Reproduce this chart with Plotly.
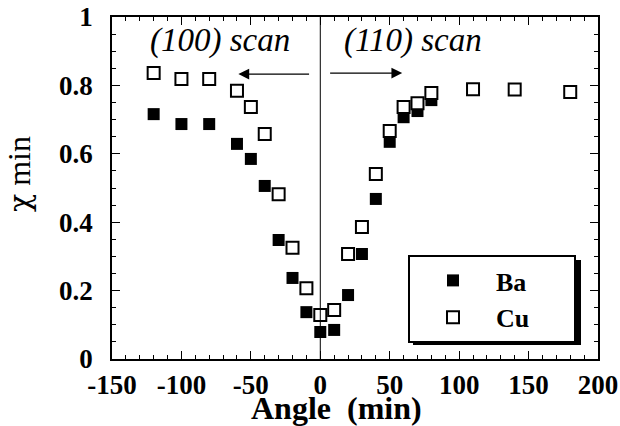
import plotly.graph_objects as go

# ---- data ----
angle_ba = [-120, -100, -80, -60, -50, -40, -30, -20, -10, 0, 10, 20, 30, 40, 50, 60, 70, 80]
chi_ba = [0.716, 0.687, 0.687, 0.629, 0.585, 0.506, 0.348, 0.237, 0.137, 0.079, 0.085,
          0.187, 0.307, 0.468, 0.635, 0.707, 0.725, 0.757]
angle_cu = [-120, -100, -80, -60, -50, -40, -30, -20, -10, 0, 10, 20, 30, 40, 50, 60, 70, 80,
            110, 140, 180]
chi_cu = [0.836, 0.819, 0.819, 0.784, 0.737, 0.658, 0.482, 0.325, 0.207, 0.129, 0.143,
          0.307, 0.386, 0.541, 0.667, 0.737, 0.748, 0.778, 0.789, 0.788, 0.781]
x_ticks = [-150, -100, -50, 0, 50, 100, 150, 200]
x_tick_text = ["-150", "-100", "-50", "0", "50", "100", "150", "200"]
y_ticks = [0, 0.2, 0.4, 0.6, 0.8, 1]
y_tick_text = ["0", "0.2", "0.4", "0.6", "0.8", "1"]

FONT = "Liberation Serif"
NB = "\u00a0"

fig = go.Figure()
fig.add_trace(go.Scatter(
    x=angle_ba, y=chi_ba, mode="markers", name="Ba" + NB * 6,
    marker=dict(symbol="square", size=12, color="black", line=dict(width=0)),
))
fig.add_trace(go.Scatter(
    x=angle_cu, y=chi_cu, mode="markers", name="Cu" + NB * 6,
    marker=dict(symbol="square", size=12, color="white", line=dict(width=2, color="black")),
))

axis_common = dict(
    showline=True, linecolor="black", linewidth=1.5, mirror="allticks",
    ticks="inside", ticklen=8, tickwidth=1, tickcolor="black",
    showgrid=False, zeroline=False, automargin=False,
    tickfont=dict(family=FONT, size=27, color="black", weight="bold"),
)

fig.update_xaxes(
    range=[-150, 200], tickvals=x_ticks, ticktext=x_tick_text,
    minor=dict(dtick=10, ticks="inside", ticklen=4, tickwidth=1, tickcolor="black", showgrid=False),
    ticklabelstandoff=1,
    **axis_common,
)
fig.update_yaxes(
    range=[0, 1], tickvals=y_ticks, ticktext=y_tick_text,
    minor=dict(dtick=0.05, ticks="inside", ticklen=4, tickwidth=1, tickcolor="black", showgrid=False),
    ticklabelstandoff=12,
    **axis_common,
)

L, R, T, B = 112, 22, 17, 67
PW, PH = 620 - L - R, 426 - T - B
def px_x(p):
    return (p - L) / PW
def px_y(p):
    return (426 - B - p) / PH

# vertical divider at 0
fig.add_shape(type="line", xref="x", yref="y", x0=0, x1=0, y0=0, y1=1,
              line=dict(color="black", width=1))

# scan labels
fig.add_annotation(x=-72, y=0.932, xref="x", yref="y", text="(100) scan", showarrow=False,
                   font=dict(family=FONT, size=33, color="black", style="italic"))
fig.add_annotation(x=67, y=0.932, xref="x", yref="y", text="(110) scan", showarrow=False,
                   font=dict(family=FONT, size=33, color="black", style="italic"))
# arrows
fig.add_annotation(x=-59, y=0.833, ax=-7, ay=0.833, xref="x", yref="y", axref="x", ayref="y",
                   text="", showarrow=True, arrowhead=2, arrowsize=1.8, arrowwidth=1.2,
                   arrowcolor="black")
fig.add_annotation(x=59, y=0.836, ax=6, ay=0.836, xref="x", yref="y", axref="x", ayref="y",
                   text="", showarrow=True, arrowhead=2, arrowsize=1.8, arrowwidth=1.2,
                   arrowcolor="black")

# y-axis title
fig.add_annotation(x=-0.19, y=0.54, xref="paper", yref="paper", textangle=-90,
                   text="<span style='font-family:DejaVu Serif;font-size:30px'>χ</span> min",
                   showarrow=False, xanchor="center", yanchor="middle",
                   font=dict(family=FONT, size=32, color="black"))
# x-axis title
fig.add_annotation(x=px_x(336), y=px_y(408), xref="paper", yref="paper",
                   text="<b>Angle  (min)</b>", showarrow=False,
                   xanchor="center", yanchor="middle",
                   font=dict(family=FONT, size=32, color="black"))

# legend shadow (offset box behind legend)
fig.add_shape(type="rect", xref="paper", yref="paper",
              x0=px_x(413), x1=px_x(581), y0=px_y(345), y1=px_y(260),
              fillcolor="black", line=dict(width=0), layer="above")

fig.update_layout(
    width=620, height=426,
    margin=dict(l=L, r=R, t=T, b=B),
    paper_bgcolor="white", plot_bgcolor="white",
    showlegend=True,
    legend=dict(
        x=px_x(408), y=px_y(255), xanchor="left", yanchor="top",
        bgcolor="white", bordercolor="black", borderwidth=2,
        font=dict(family=FONT, size=26, color="black", weight="bold"),
        itemwidth=76, tracegroupgap=0,
    ),
)

fig.write_html("out.html")
